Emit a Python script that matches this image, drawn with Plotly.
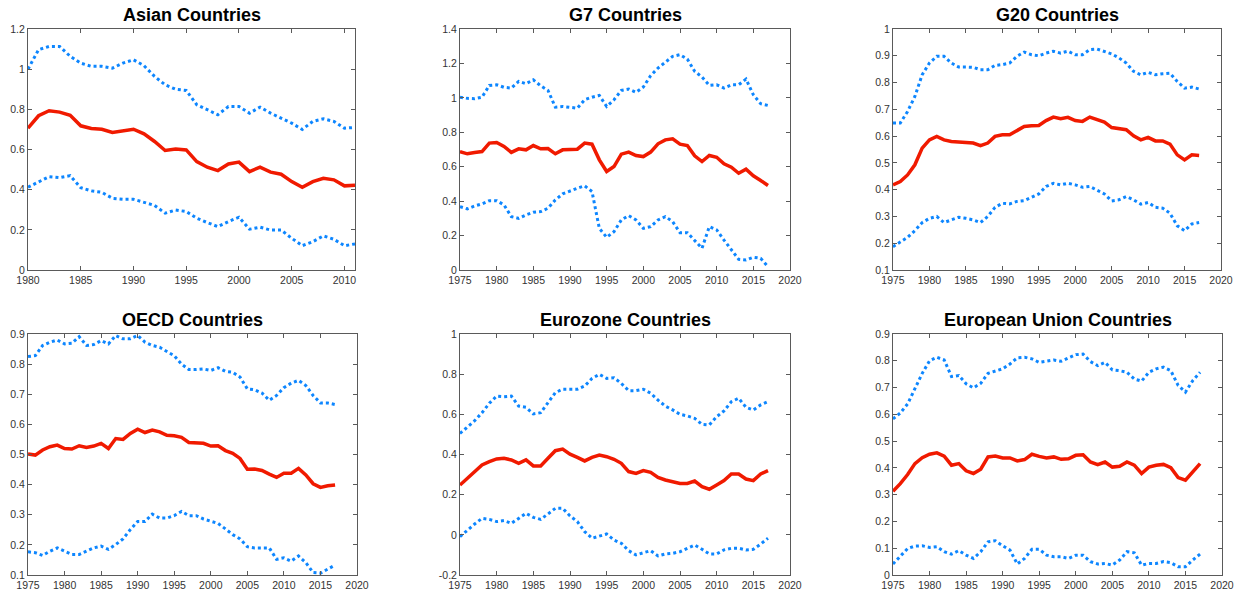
import plotly.graph_objects as go

# ---- data -------------------------------------------------------------
years_asia = list(range(1980, 2012))
years = list(range(1975, 2018))

asia_mid = [0.706, 0.768, 0.793, 0.786, 0.770, 0.718, 0.705, 0.701, 0.685, 0.693,
            0.701, 0.678, 0.640, 0.595, 0.602, 0.598, 0.540, 0.512, 0.495, 0.528,
            0.537, 0.490, 0.512, 0.487, 0.477, 0.440, 0.412, 0.440, 0.457, 0.449,
            0.419, 0.422]
asia_hi = [1.000, 1.097, 1.113, 1.113, 1.064, 1.030, 1.014, 1.014, 1.005, 1.030,
           1.047, 1.017, 0.964, 0.922, 0.900, 0.894, 0.823, 0.798, 0.773, 0.814,
           0.814, 0.781, 0.811, 0.781, 0.756, 0.731, 0.700, 0.740, 0.753, 0.740,
           0.706, 0.710]
asia_lo = [0.412, 0.440, 0.465, 0.460, 0.470, 0.410, 0.394, 0.387, 0.357, 0.352,
           0.352, 0.337, 0.321, 0.283, 0.299, 0.291, 0.258, 0.236, 0.216, 0.241,
           0.263, 0.203, 0.213, 0.199, 0.199, 0.158, 0.121, 0.141, 0.170, 0.153,
           0.121, 0.130]

g7_mid = [0.688, 0.675, 0.683, 0.688, 0.737, 0.741, 0.718, 0.683, 0.704, 0.698,
          0.723, 0.704, 0.706, 0.675, 0.698, 0.698, 0.702, 0.737, 0.731, 0.640,
          0.572, 0.601, 0.673, 0.685, 0.665, 0.659, 0.685, 0.733, 0.756, 0.762,
          0.731, 0.723, 0.663, 0.630, 0.665, 0.655, 0.617, 0.597, 0.562, 0.586,
          0.547, 0.520, 0.491]
g7_hi = [1.004, 0.997, 0.995, 1.004, 1.072, 1.076, 1.061, 1.057, 1.096, 1.082,
         1.105, 1.070, 1.043, 0.946, 0.950, 0.946, 0.940, 0.989, 1.004, 1.014,
         0.950, 0.989, 1.043, 1.051, 1.032, 1.063, 1.129, 1.173, 1.206, 1.241,
         1.251, 1.225, 1.154, 1.121, 1.072, 1.076, 1.057, 1.076, 1.076, 1.109,
         1.018, 0.966, 0.956]
g7_lo = [0.368, 0.355, 0.372, 0.384, 0.403, 0.403, 0.378, 0.310, 0.300, 0.320,
         0.335, 0.339, 0.359, 0.407, 0.442, 0.460, 0.475, 0.489, 0.456, 0.242,
         0.190, 0.223, 0.291, 0.316, 0.291, 0.242, 0.252, 0.291, 0.310, 0.281,
         0.217, 0.217, 0.171, 0.126, 0.252, 0.233, 0.174, 0.116, 0.062, 0.058,
         0.074, 0.068, 0.019]

g20_mid = [0.418, 0.430, 0.455, 0.493, 0.555, 0.586, 0.599, 0.586, 0.580, 0.579,
           0.576, 0.574, 0.564, 0.574, 0.599, 0.605, 0.605, 0.621, 0.636, 0.639,
           0.640, 0.658, 0.671, 0.665, 0.670, 0.658, 0.655, 0.671, 0.661, 0.652,
           0.632, 0.627, 0.624, 0.601, 0.586, 0.595, 0.582, 0.582, 0.570, 0.530,
           0.511, 0.530, 0.528]
g20_hi = [0.649, 0.649, 0.692, 0.748, 0.829, 0.873, 0.898, 0.898, 0.873, 0.858,
          0.858, 0.857, 0.848, 0.848, 0.864, 0.867, 0.873, 0.898, 0.914, 0.904,
          0.900, 0.910, 0.917, 0.910, 0.917, 0.904, 0.904, 0.923, 0.925, 0.917,
          0.907, 0.892, 0.873, 0.842, 0.829, 0.838, 0.829, 0.833, 0.835, 0.804,
          0.779, 0.783, 0.776]
g20_lo = [0.187, 0.206, 0.222, 0.247, 0.277, 0.293, 0.300, 0.277, 0.287, 0.297,
          0.293, 0.287, 0.277, 0.300, 0.334, 0.349, 0.347, 0.356, 0.359, 0.371,
          0.384, 0.412, 0.424, 0.418, 0.424, 0.418, 0.409, 0.412, 0.399, 0.384,
          0.358, 0.362, 0.374, 0.362, 0.346, 0.352, 0.334, 0.331, 0.312, 0.265,
          0.247, 0.272, 0.277]

oecd_mid = [0.502, 0.498, 0.515, 0.526, 0.531, 0.520, 0.518, 0.529, 0.523, 0.528,
            0.537, 0.520, 0.553, 0.550, 0.570, 0.584, 0.573, 0.581, 0.575, 0.564,
            0.562, 0.557, 0.540, 0.539, 0.537, 0.528, 0.529, 0.513, 0.504, 0.487,
            0.451, 0.452, 0.447, 0.435, 0.424, 0.438, 0.438, 0.454, 0.432, 0.403,
            0.391, 0.396, 0.399]
oecd_hi = [0.825, 0.828, 0.862, 0.873, 0.880, 0.867, 0.869, 0.891, 0.862, 0.865,
           0.878, 0.867, 0.895, 0.884, 0.884, 0.895, 0.873, 0.862, 0.856, 0.843,
           0.828, 0.800, 0.782, 0.782, 0.784, 0.779, 0.788, 0.776, 0.773, 0.757,
           0.718, 0.715, 0.704, 0.680, 0.696, 0.722, 0.737, 0.746, 0.729, 0.696,
           0.671, 0.671, 0.666]
oecd_lo = [0.177, 0.174, 0.165, 0.179, 0.190, 0.179, 0.168, 0.168, 0.179, 0.190,
           0.196, 0.185, 0.201, 0.220, 0.251, 0.278, 0.278, 0.302, 0.289, 0.289,
           0.297, 0.311, 0.297, 0.297, 0.286, 0.278, 0.271, 0.253, 0.234, 0.220,
           0.194, 0.190, 0.190, 0.190, 0.152, 0.157, 0.146, 0.163, 0.141, 0.108,
           0.106, 0.119, 0.133]

euro_mid = [0.248, 0.281, 0.315, 0.348, 0.364, 0.378, 0.381, 0.373, 0.356, 0.373,
            0.343, 0.343, 0.381, 0.419, 0.427, 0.402, 0.386, 0.368, 0.386, 0.397,
            0.389, 0.376, 0.356, 0.315, 0.306, 0.320, 0.311, 0.286, 0.273, 0.265,
            0.256, 0.256, 0.268, 0.240, 0.227, 0.248, 0.270, 0.303, 0.303, 0.278,
            0.270, 0.303, 0.320]
euro_hi = [0.505, 0.539, 0.568, 0.608, 0.655, 0.691, 0.688, 0.691, 0.641, 0.635,
           0.602, 0.608, 0.655, 0.708, 0.725, 0.725, 0.725, 0.741, 0.779, 0.799,
           0.779, 0.782, 0.754, 0.718, 0.718, 0.725, 0.705, 0.671, 0.641, 0.622,
           0.600, 0.592, 0.580, 0.550, 0.547, 0.588, 0.617, 0.663, 0.680, 0.635,
           0.622, 0.647, 0.663]
euro_lo = [-0.009, 0.024, 0.054, 0.082, 0.077, 0.066, 0.071, 0.057, 0.082, 0.107,
           0.087, 0.077, 0.104, 0.132, 0.132, 0.094, 0.066, 0.016, -0.017, -0.006,
           0.004, -0.026, -0.042, -0.079, -0.100, -0.089, -0.079, -0.105, -0.095, -0.092,
           -0.084, -0.067, -0.051, -0.072, -0.095, -0.095, -0.075, -0.067, -0.067, -0.075,
           -0.072, -0.046, -0.017]

eu_mid = [0.313, 0.341, 0.375, 0.416, 0.438, 0.451, 0.456, 0.444, 0.410, 0.416,
          0.389, 0.379, 0.395, 0.441, 0.444, 0.437, 0.437, 0.426, 0.431, 0.451,
          0.443, 0.437, 0.441, 0.432, 0.434, 0.447, 0.449, 0.422, 0.412, 0.422,
          0.403, 0.406, 0.422, 0.410, 0.379, 0.403, 0.410, 0.413, 0.401, 0.364,
          0.354, 0.385, 0.416]
eu_hi = [0.583, 0.605, 0.639, 0.695, 0.753, 0.800, 0.813, 0.803, 0.741, 0.745,
         0.714, 0.699, 0.716, 0.753, 0.763, 0.770, 0.788, 0.811, 0.813, 0.807,
         0.794, 0.798, 0.803, 0.798, 0.811, 0.823, 0.825, 0.797, 0.782, 0.794,
         0.766, 0.763, 0.757, 0.732, 0.724, 0.757, 0.770, 0.776, 0.763, 0.708,
         0.683, 0.726, 0.757]
eu_lo = [0.041, 0.071, 0.099, 0.108, 0.109, 0.103, 0.106, 0.087, 0.078, 0.091,
         0.074, 0.062, 0.087, 0.124, 0.128, 0.109, 0.093, 0.041, 0.062, 0.096,
         0.096, 0.074, 0.068, 0.068, 0.062, 0.074, 0.074, 0.050, 0.041, 0.043,
         0.037, 0.056, 0.087, 0.083, 0.037, 0.043, 0.043, 0.050, 0.046, 0.031,
         0.031, 0.056, 0.078]

titles = ["Asian Countries", "G7 Countries", "G20 Countries",
          "OECD Countries", "Eurozone Countries", "European Union Countries"]

# ---- panel setup --------------------------------------------------------
W, H = 1245, 595
RED = "#f01a00"
BLUE = "#0d86ff"
AXIS = "#5a5a5a"
FONT = "Liberation Sans, Arial, sans-serif"
TICKFONT = dict(family=FONT, size=10.5, color="#333333")

panels = [
    dict(x=years_asia, mid=asia_mid, hi=asia_hi, lo=asia_lo,
         box=(28, 29, 355, 270), xr=[1980, 2011], xt=[1980, 1985, 1990, 1995, 2000, 2005, 2010],
         yr=[0, 1.2], dy=0.2),
    dict(x=years, mid=g7_mid, hi=g7_hi, lo=g7_lo,
         box=(460, 29, 790, 270), xr=[1975, 2020], xt=list(range(1975, 2021, 5)),
         yr=[0, 1.4], dy=0.2),
    dict(x=years, mid=g20_mid, hi=g20_hi, lo=g20_lo,
         box=(893, 29, 1221, 270), xr=[1975, 2020], xt=list(range(1975, 2021, 5)),
         yr=[0.1, 1.0], dy=0.1),
    dict(x=years, mid=oecd_mid, hi=oecd_hi, lo=oecd_lo,
         box=(28, 334, 357, 575), xr=[1975, 2020], xt=list(range(1975, 2021, 5)),
         yr=[0.1, 0.9], dy=0.1),
    dict(x=years, mid=euro_mid, hi=euro_hi, lo=euro_lo,
         box=(460, 334, 790, 575), xr=[1975, 2020], xt=list(range(1975, 2021, 5)),
         yr=[-0.2, 1.0], dy=0.2),
    dict(x=years, mid=eu_mid, hi=eu_hi, lo=eu_lo,
         box=(893, 334, 1222, 575), xr=[1975, 2020], xt=list(range(1975, 2021, 5)),
         yr=[0, 0.9], dy=0.1),
]

fig = go.Figure()
layout = dict(template="none", width=W, height=H,
              margin=dict(l=0, r=0, t=0, b=0, pad=0, autoexpand=False),
              paper_bgcolor="white", plot_bgcolor="white", showlegend=False,
              annotations=[])


def fmt(v):
    s = f"{v:.1f}"
    if s.endswith(".0"):
        s = s[:-2]
    return s


for i, p in enumerate(panels, start=1):
    xa = "x" if i == 1 else f"x{i}"
    ya = "y" if i == 1 else f"y{i}"
    for series, color, width, dash in [(p["hi"], BLUE, 3, "3px,3px"),
                                       (p["lo"], BLUE, 3, "3px,3px"),
                                       (p["mid"], RED, 3.5, "solid")]:
        fig.add_trace(go.Scatter(x=p["x"], y=series, mode="lines",
                                 line=dict(color=color, width=width, dash=dash),
                                 xaxis=xa, yaxis=ya, hoverinfo="skip"))
    x0, y0, x1, y1 = p["box"]
    ylo, yhi = p["yr"]
    n = int(round((yhi - ylo) / p["dy"]))
    yt = [round(ylo + k * p["dy"], 2) for k in range(n + 1)]
    common = dict(showline=True, linecolor=AXIS, linewidth=1, mirror="allticks",
                  ticks="inside", ticklen=4, tickcolor=AXIS, tickwidth=1,
                  showgrid=False, zeroline=False, tickfont=TICKFONT, automargin=False)
    layout["xaxis" if i == 1 else f"xaxis{i}"] = dict(
        domain=[x0 / W, x1 / W], anchor=ya, range=p["xr"], tickvals=p["xt"],
        ticktext=[str(t) for t in p["xt"]], **common)
    layout["yaxis" if i == 1 else f"yaxis{i}"] = dict(
        domain=[1 - y1 / H, 1 - y0 / H], anchor=xa, range=p["yr"], tickvals=yt,
        ticktext=[fmt(t) for t in yt], **common)
    layout["annotations"].append(dict(
        text=f"<b>{titles[i - 1]}</b>", x=(x0 + x1) / 2 / W, y=1 - (y0 - 14) / H,
        xref="paper", yref="paper", xanchor="center", yanchor="middle",
        showarrow=False,
        font=dict(family=FONT, size=18, color="#000000")))

fig.update_layout(**layout)
fig.write_html("out.html")
